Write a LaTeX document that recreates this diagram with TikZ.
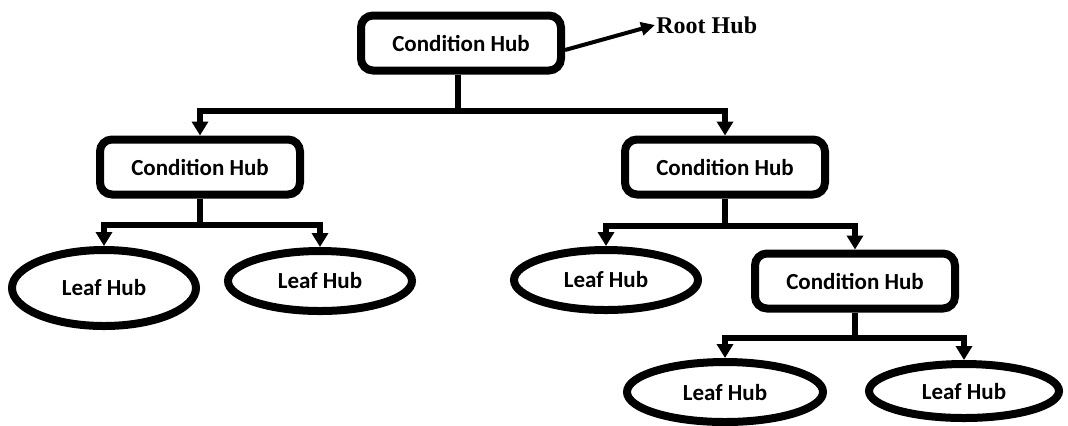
\documentclass[tikz,border=0pt]{standalone}
\usepackage{fontspec}
\setsansfont{Carlito}
\newfontfamily\tagfont{Liberation Serif}
\usetikzlibrary{arrows.meta,shapes.geometric}
\tikzset{
        hubfont/.style={font=\sffamily\bfseries\fontsize{11.5}{13}\selectfont},
        cond/.style={hubfont, draw=black, line width=4pt, rounded corners=6pt, minimum width=100pt, minimum height=27.5pt, inner sep=2pt},
        leaf/.style={hubfont, ellipse, draw=black, line width=4pt, minimum width=92pt, minimum height=30pt, inner sep=1pt},
        link/.style={line width=3.2pt},
        down/.style={link, -{Triangle[width=8pt,length=7pt]}},
        pointer/.style={line width=2pt, -{Triangle[width=6.5pt,length=7pt]}},
        tagnode/.style={font=\tagfont\bfseries\fontsize{12}{14}\selectfont, inner sep=0.5pt, anchor=west}
          }
\begin{document}
\begin{tikzpicture}[x=0.5pt, y=-0.5pt]
            \useasboundingbox (0,0) rectangle (1068,425);
            % hubs
            \node[cond] (root) at (461,43) {Condition Hub};
            \node[tagnode] (roottag) at (655,25) {Root Hub};
            \node[cond] (left) at (200,167) {Condition Hub};
            \node[cond] (right) at (725,167) {Condition Hub};
            \node[cond] (inner) at (855,281) {Condition Hub};
            \node[leaf, minimum height=38pt] (leafa) at (104,288) {Leaf Hub};
            \node[leaf] (leafb) at (320,281) {Leaf Hub};
            \node[leaf] (leafc) at (606,280) {Leaf Hub};
            \node[leaf, minimum width=98pt] (leafd) at (725,392) {Leaf Hub};
            \node[leaf, minimum width=95pt, minimum height=27pt] (leafe) at (964,391) {Leaf Hub};
            % bus points
            \coordinate (rootbus) at (458,111);
            \coordinate (leftbus) at (200,225);
            \coordinate (rightbus) at (725,226);
            \coordinate (innerbus) at (855,338);
            % connectors
            \draw[pointer] ([yshift=-3.5pt]root.east) -- (roottag.west);
            \draw[link] (root.south -| rootbus) -- (rootbus);
            \draw[down] (rootbus) -| (left.north);
            \draw[down] (rootbus) -| (right.north);
            \draw[link] (left.south) -- (leftbus);
            \draw[down] (leftbus) -| (leafa.north);
            \draw[down] (leftbus) -| (leafb.north);
            \draw[link] (right.south) -- (rightbus);
            \draw[down] (rightbus) -| (leafc.north);
            \draw[down] (rightbus) -| (inner.north);
            \draw[link] (inner.south) -- (innerbus);
            \draw[down] (innerbus) -| (leafd.north);
            \draw[down] (innerbus) -| (leafe.north);
          \end{tikzpicture}
\end{document}
